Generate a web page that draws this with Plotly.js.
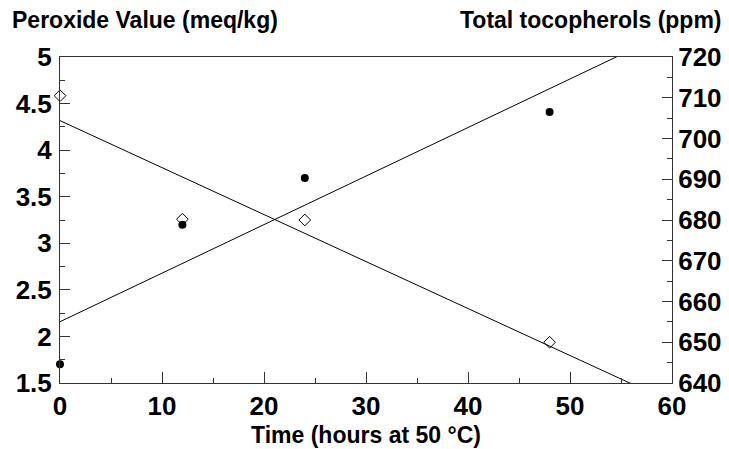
<!DOCTYPE html>
<html>
<head>
<meta charset="utf-8">
<script src="https://cdn.plot.ly/plotly-3.0.1.min.js"></script>
<style>html,body{margin:0;padding:0;background:#fff;}#chart{width:729px;height:449px;}</style>
</head>
<body>
<div id="chart"></div>
<script>
// Data
const timeHours = [0, 12, 24, 48];
const peroxideValue = [1.70, 3.20, 3.70, 4.41];      // meq/kg, left axis (filled circles)
const totalTocopherols = [710.5, 680.2, 680.0, 650.0]; // ppm, right axis (open diamonds)

const xTitle = "Time (hours at 50 °C)";
const leftTitle = "Peroxide Value (meq/kg)";
const rightTitle = "Total tocopherols (ppm)";

// Least-squares trend line derived from the data arrays
function fit(xs, ys) {
  const n = xs.length;
  const mx = xs.reduce((a, b) => a + b, 0) / n;
  const my = ys.reduce((a, b) => a + b, 0) / n;
  let sxy = 0, sxx = 0;
  for (let i = 0; i < n; i++) { sxy += (xs[i] - mx) * (ys[i] - my); sxx += (xs[i] - mx) ** 2; }
  const b = sxy / sxx;
  return { a: my - b * mx, b: b };
}
const xRange = [0, 60];
const fp = fit(timeHours, peroxideValue);
const ft = fit(timeHours, totalTocopherols);

const FONT = "Liberation Sans";
const TICKFONT = { family: FONT, size: 26, color: "#000", weight: 700 };
const TITLEFONT = { family: FONT, size: 23, color: "#000", weight: 700 };

const traces = [
  { x: xRange, y: xRange.map(x => fp.a + fp.b * x), mode: "lines", line: { color: "#000", width: 1 }, yaxis: "y", hoverinfo: "skip" },
  { x: xRange, y: xRange.map(x => ft.a + ft.b * x), mode: "lines", line: { color: "#000", width: 1 }, yaxis: "y2", hoverinfo: "skip" },
  { x: timeHours, y: totalTocopherols, mode: "markers", yaxis: "y2", cliponaxis: false,
    marker: { symbol: "diamond-open", size: 9, color: "#000", line: { width: 1, color: "#000" } } },
  { x: timeHours, y: peroxideValue, mode: "markers", yaxis: "y", cliponaxis: false,
    marker: { symbol: "circle", size: 8, color: "#000" } }
];

const layout = {
  width: 729, height: 449,
  margin: { l: 60, r: 57, t: 57, b: 66 },
  paper_bgcolor: "#fff", plot_bgcolor: "#fff",
  showlegend: false,
  font: { family: FONT, color: "#000", weight: 700 },
  xaxis: {
    range: xRange, dtick: 10, tick0: 0, showgrid: false, zeroline: false,
    showline: true, linecolor: "#333", linewidth: 1, mirror: true,
    ticks: "inside", ticklen: 11, tickcolor: "#333", tickwidth: 1,
    minor: { dtick: 5, ticks: "inside", ticklen: 5, tickcolor: "#333", tickwidth: 1, showgrid: false },
    tickfont: TICKFONT,
    ticklabelstandoff: 0,
    title: { text: "<b>" + xTitle + "</b>", font: TITLEFONT, standoff: 6 }
  },
  yaxis: {
    range: [1.5, 5], dtick: 0.5, tick0: 1.5, showgrid: false, zeroline: false,
    showline: true, linecolor: "#333", linewidth: 1,
    ticks: "inside", ticklen: 10, tickcolor: "#333", tickwidth: 1,
    minor: { dtick: 0.25, ticks: "inside", ticklen: 5, tickcolor: "#333", tickwidth: 1, showgrid: false },
    tickfont: TICKFONT,
    ticklabelstandoff: 2
  },
  yaxis2: {
    range: [640, 720], dtick: 10, tick0: 640, overlaying: "y", side: "right",
    showgrid: false, zeroline: false,
    showline: true, linecolor: "#333", linewidth: 1,
    ticks: "inside", ticklen: 10, tickcolor: "#333", tickwidth: 1,
    minor: { dtick: 5, ticks: "inside", ticklen: 5, tickcolor: "#333", tickwidth: 1, showgrid: false },
    tickfont: TICKFONT,
    ticklabelstandoff: 0
  },
  annotations: [
    { text: "<b>" + leftTitle + "</b>", xref: "paper", yref: "paper", x: -0.081, y: 1.115, xanchor: "left", yanchor: "middle",
      showarrow: false, font: TITLEFONT },
    { text: "<b>" + rightTitle + "</b>", xref: "paper", yref: "paper", x: 1.085, y: 1.115, xanchor: "right", yanchor: "middle",
      showarrow: false, font: TITLEFONT }
  ]
};

Plotly.newPlot("chart", traces, layout, { staticPlot: true, displayModeBar: false });
</script>
</body>
</html>
